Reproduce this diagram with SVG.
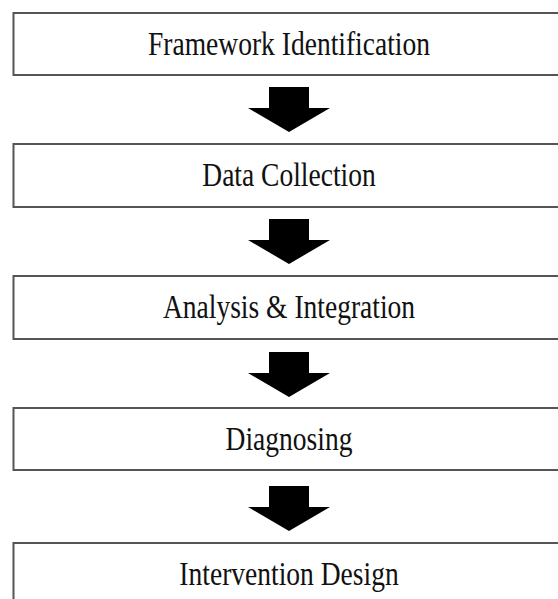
<svg xmlns="http://www.w3.org/2000/svg" width="558" height="599" viewBox="0 0 558 599">
<style>
.box{fill:#fff;stroke:#555;stroke-width:2}
.lbl{font-family:"Liberation Serif","Times New Roman",serif;font-size:33px;fill:#111;text-anchor:middle}
.arr{fill:#000}
</style>
<defs>
<path id="arrow" d="M-20,0 H20 V21 H41 L0,45 L-41,21 H-20 Z"/>
</defs>
<rect width="558" height="599" fill="#fff"/>
<g id="node1"><rect class="box" x="13.5" y="13" width="560" height="62"/><text class="lbl" transform="translate(289,55) scale(0.834,1)">Framework Identification</text></g>
<g id="node2"><rect class="box" x="13.5" y="144" width="560" height="63"/><text class="lbl" transform="translate(289,186) scale(0.834,1)">Data Collection</text></g>
<g id="node3"><rect class="box" x="13.5" y="276" width="560" height="63"/><text class="lbl" transform="translate(289,318) scale(0.834,1)">Analysis &amp; Integration</text></g>
<g id="node4"><rect class="box" x="13.5" y="408" width="560" height="62"/><text class="lbl" transform="translate(289,450) scale(0.834,1)">Diagnosing</text></g>
<g id="node5"><rect class="box" x="13.5" y="543" width="560" height="70"/><text class="lbl" transform="translate(289,585) scale(0.834,1)">Intervention Design</text></g>
<g id="connectors">
<use class="arr" href="#arrow" x="289" y="87"/>
<use class="arr" href="#arrow" x="289" y="219"/>
<use class="arr" href="#arrow" x="289" y="352"/>
<use class="arr" href="#arrow" x="289" y="486"/>
</g>
</svg>
